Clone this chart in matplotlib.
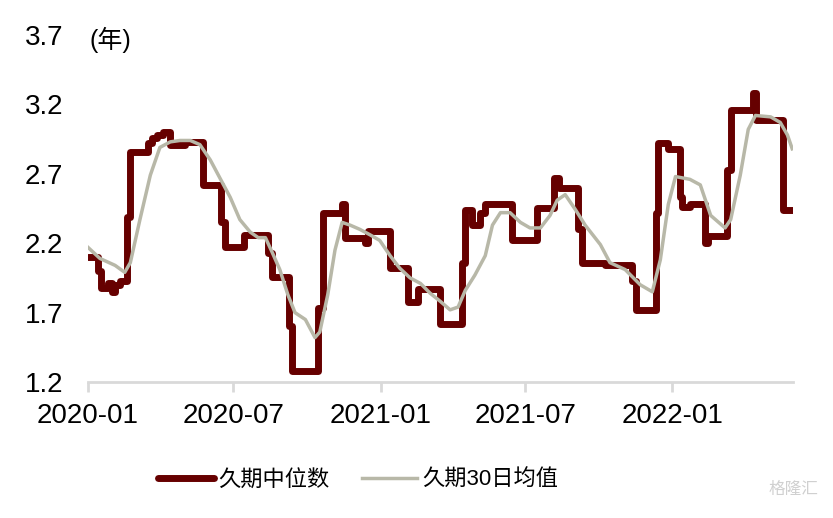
import matplotlib
matplotlib.use("Agg")
import matplotlib.pyplot as plt
import matplotlib.dates as mdates
import pandas as pd

plt.rcParams['font.family'] = ['Liberation Sans', 'Noto Sans CJK SC', 'DejaVu Sans']

# 久期中位数 (step levels, each value holds until the next date)
median_dates = ["2020-01-01", "2020-01-13", "2020-01-17", "2020-01-26", "2020-01-31",
                "2020-02-04", "2020-02-10", "2020-02-19", "2020-02-23", "2020-03-16",
                "2020-03-21", "2020-03-27", "2020-04-04", "2020-04-13", "2020-05-01",
                "2020-05-24", "2020-06-15", "2020-06-20", "2020-07-14", "2020-08-13",
                "2020-08-18", "2020-09-09", "2020-09-12", "2020-10-15", "2020-10-17",
                "2020-10-21", "2020-11-14", "2020-11-18", "2020-12-13", "2020-12-16",
                "2021-01-13", "2021-02-04", "2021-02-17", "2021-03-17", "2021-04-13",
                "2021-04-17", "2021-04-26", "2021-05-06", "2021-05-12", "2021-06-15",
                "2021-07-16", "2021-08-06", "2021-08-12", "2021-09-05", "2021-09-10",
                "2021-10-09", "2021-11-12", "2021-11-16", "2021-12-11", "2021-12-14",
                "2021-12-27", "2022-01-10", "2022-01-13", "2022-01-23", "2022-02-11",
                "2022-02-15", "2022-03-11", "2022-03-16", "2022-04-12", "2022-04-16",
                "2022-05-20", "2022-06-01"]
median_vals = [2.10, 2.00, 1.88, 1.91, 1.85,
               1.90, 1.93, 2.39, 2.86, 2.92,
               2.96, 2.98, 3.00, 2.91, 2.93,
               2.62, 2.35, 2.17, 2.26, 2.13,
               1.96, 1.60, 1.28, 1.73, 1.73,
               2.42, 2.48, 2.24, 2.20, 2.29,
               2.02, 1.78, 1.87, 1.62, 2.06,
               2.44, 2.33, 2.42, 2.48, 2.22,
               2.45, 2.67, 2.60, 2.30, 2.06,
               2.04, 1.93, 1.72, 2.42, 2.92,
               2.88, 2.53, 2.46, 2.48, 2.20,
               2.25, 2.73, 3.16, 3.28, 3.09,
               2.44, 2.44]

# 久期30日均值
ma_dates = ["2020-01-01", "2020-01-16", "2020-02-04", "2020-02-16", "2020-02-23",
            "2020-03-06", "2020-03-19", "2020-03-31", "2020-04-13", "2020-04-25",
            "2020-05-08", "2020-05-20", "2020-06-02", "2020-06-14", "2020-06-27",
            "2020-07-09", "2020-07-22", "2020-08-01", "2020-08-10", "2020-08-18",
            "2020-08-28", "2020-09-07", "2020-09-16", "2020-09-29", "2020-10-11",
            "2020-10-17", "2020-10-27", "2020-11-05", "2020-11-14", "2020-11-24",
            "2020-12-06", "2020-12-19", "2020-12-31", "2021-01-13", "2021-01-25",
            "2021-02-07", "2021-02-20", "2021-03-04", "2021-03-17", "2021-03-29",
            "2021-04-08", "2021-04-17", "2021-04-29", "2021-05-12", "2021-05-21",
            "2021-05-31", "2021-06-12", "2021-06-25", "2021-07-07", "2021-07-20",
            "2021-08-01", "2021-08-10", "2021-08-20", "2021-09-02", "2021-09-14",
            "2021-10-03", "2021-10-15", "2021-11-03", "2021-11-22", "2021-12-07",
            "2021-12-17", "2021-12-27", "2022-01-05", "2022-01-23", "2022-02-05",
            "2022-02-18", "2022-02-28", "2022-03-08", "2022-03-15", "2022-03-27",
            "2022-04-06", "2022-04-15", "2022-05-04", "2022-05-16", "2022-05-25",
            "2022-05-31"]
ma_vals = [2.17, 2.09, 2.04, 1.99, 2.06,
           2.37, 2.69, 2.89, 2.93, 2.94,
           2.94, 2.91, 2.80, 2.67, 2.53,
           2.37, 2.28, 2.24, 2.24, 2.14,
           2.01, 1.83, 1.70, 1.65, 1.52,
           1.56, 1.83, 2.15, 2.35, 2.33,
           2.30, 2.26, 2.22, 2.11, 2.02,
           1.95, 1.91, 1.84, 1.78, 1.72,
           1.74, 1.86, 1.97, 2.11, 2.33,
           2.42, 2.42, 2.35, 2.31, 2.31,
           2.40, 2.51, 2.55, 2.44, 2.33,
           2.19, 2.06, 2.01, 1.90, 1.85,
           2.08, 2.48, 2.68, 2.66, 2.62,
           2.40, 2.35, 2.31, 2.37, 2.69,
           3.02, 3.12, 3.11, 3.07, 2.98,
           2.88]

tick_dates = ["2020-01-01", "2020-07-01", "2021-01-01", "2021-07-01", "2022-01-01"]
y_ticks = [1.2, 1.7, 2.2, 2.7, 3.2, 3.7]

fig = plt.figure(figsize=(8.33, 5.18), dpi=100)
ax = fig.add_axes([0.1056, 0.2625, 0.8464, 0.67])

ax.plot(pd.to_datetime(median_dates), median_vals, drawstyle='steps-post',
        color='#660000', linewidth=5, solid_joinstyle='round',
        solid_capstyle='round', label='久期中位数', zorder=2)
ax.plot(pd.to_datetime(ma_dates), ma_vals, color='#B8B8A8', linewidth=2.5,
        label='久期30日均值', zorder=3)

ax.set_ylim(1.2, 3.7)
ax.set_yticks(y_ticks)
ax.set_yticklabels([f"{v:.1f}" for v in y_ticks])
ax.set_xlim(pd.Timestamp("2020-01-01"), pd.Timestamp("2022-06-01"))
ax.set_xticks(pd.to_datetime(tick_dates))
ax.xaxis.set_major_formatter(mdates.DateFormatter("%Y-%m"))

for s in ['top', 'right', 'left']:
    ax.spines[s].set_visible(False)
ax.spines['bottom'].set_color('#D9D9D9')
ax.spines['bottom'].set_linewidth(2)
ax.tick_params(axis='x', direction='out', length=7, width=2, color='#D9D9D9',
               labelsize=20, pad=8)
ax.tick_params(axis='y', length=0, labelsize=20, pad=18)

ax.text(0.002, 0.985, "(年)", transform=ax.transAxes, fontsize=18,
        va='center', ha='left')

fig.legend(loc='center', bbox_to_anchor=(0.43, 0.072), ncol=2, frameon=False,
           fontsize=16, handlelength=2.5, handletextpad=0.2, columnspacing=1.45)

fig.text(0.982, 0.055, "格隆汇", fontsize=12, color='#D0D0D0', ha='right', va='center')

fig.savefig("out.png", dpi=100)
